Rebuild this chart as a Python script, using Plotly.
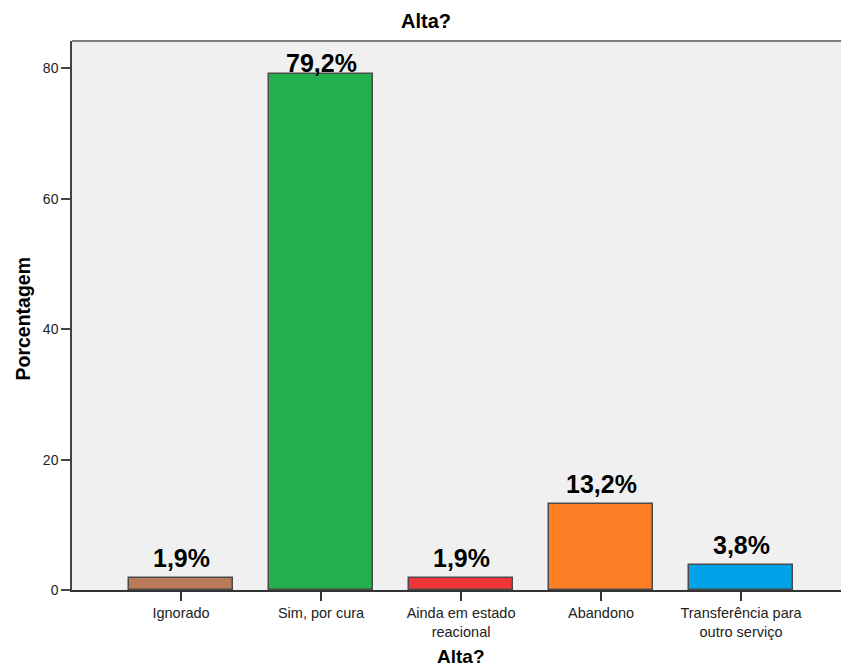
import plotly.graph_objects as go

# Discharge outcome categories and their percentages
categories = ["Ignorado", "Sim, por cura", "Ainda em estado<br>reacional",
              "Abandono", "Transferência para<br>outro serviço"]
percentages = [1.9, 79.2, 1.9, 13.2, 3.8]
labels = ["1,9%", "79,2%", "1,9%", "13,2%", "3,8%"]
colors = ["#b97a57", "#22b14c", "#f0343a", "#ff7f27", "#00a2e8"]
y_ticks = [0, 20, 40, 60, 80]

FONT = "Liberation Sans, Arial, sans-serif"
W, H = 841, 668
M_L, M_R, M_T, M_B = 72, 0, 41, 78
Y_MAX = 84.2
X_RANGE = [-0.779, 4.714]

x_pos = list(range(len(categories)))

fig = go.Figure()
fig.add_trace(go.Bar(
    x=x_pos,
    y=percentages,
    width=0.743,
    marker=dict(color=colors, line=dict(color="#4a4a4a", width=1.5)),
    hoverinfo="skip",
))

# Value labels above each bar, pulled down when they would crowd the top edge
plot_h = H - M_T - M_B
px_per_unit = plot_h / Y_MAX
label_h = 26
top_margin = 12
for xi, v, t in zip(x_pos, percentages, labels):
    top_px = (Y_MAX - v) * px_per_unit
    gap = min(4, top_px - label_h - top_margin)
    fig.add_annotation(
        x=xi, y=v, text=f"<b>{t}</b>", showarrow=False,
        yanchor="bottom", yshift=gap,
        font=dict(family=FONT, size=25, color="#000000"),
    )

# Chart title
fig.add_annotation(
    xref="paper", yref="paper",
    x=(425.5 - M_L) / (W - M_L - M_R), y=1, yshift=7,
    text="<b>Alta?</b>", showarrow=False, yanchor="bottom",
    font=dict(family=FONT, size=20, color="#000000"),
)
# Axis titles
fig.add_annotation(
    xref="paper", yref="paper",
    x=(461 - M_L) / (W - M_L - M_R), y=0, yshift=-54,
    text="<b>Alta?</b>", showarrow=False, yanchor="top",
    font=dict(family=FONT, size=19, color="#000000"),
)
fig.add_annotation(
    xref="paper", yref="paper",
    x=0, xshift=-63, y=0.5, yshift=-3,
    text="<b>Porcentagem</b>", showarrow=False, textangle=-90,
    font=dict(family=FONT, size=19.5, color="#000000"),
)

# Top border of the plot area
fig.add_shape(type="line", xref="paper", yref="paper",
              x0=0, x1=1, y0=1, y1=1,
              line=dict(color="#808080", width=2))

fig.update_layout(
    width=W, height=H,
    margin=dict(l=M_L, r=M_R, t=M_T, b=M_B),
    paper_bgcolor="#ffffff",
    plot_bgcolor="#f0f0f0",
    showlegend=False,
    bargap=0,
    font=dict(family=FONT, color="#222222"),
    xaxis=dict(
        range=X_RANGE,
        tickmode="array", tickvals=x_pos, ticktext=categories,
        showgrid=False, zeroline=False,
        showline=True, linecolor="#333333", linewidth=1.5,
        ticks="outside", ticklen=9, tickcolor="#333333", tickwidth=1.5,
        tickfont=dict(family=FONT, size=14.5, color="#222222"),
        fixedrange=True,
    ),
    yaxis=dict(
        range=[0, Y_MAX],
        tickmode="array", tickvals=y_ticks,
        showgrid=False, zeroline=False,
        showline=True, linecolor="#444444", linewidth=1.5,
        ticks="outside", ticklen=9, tickcolor="#444444", tickwidth=1.5,
        tickfont=dict(family=FONT, size=14, color="#222222"),
        fixedrange=True,
    ),
)

fig.write_html("out.html")
